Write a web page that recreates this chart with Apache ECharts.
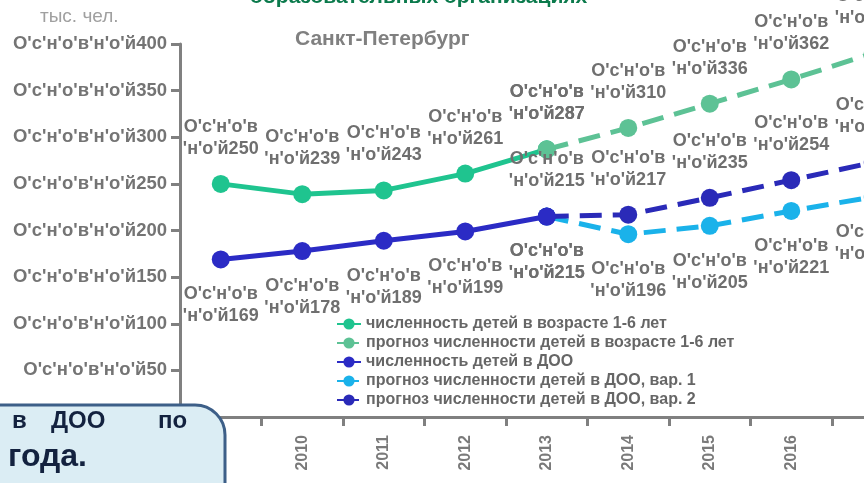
<!DOCTYPE html>
<html>
<head>
<meta charset="utf-8">
<script src="https://cdn.jsdelivr.net/npm/echarts@6/dist/echarts.min.js"></script>
<style>html,body{margin:0;padding:0;background:#fff;}#c{width:864px;height:483px;}</style>
</head>
<body>
<div id="c"></div>
<script>
const years = ['2009','2010','2011','2012','2013','2014','2015','2016','2017'];
const children16 = [250, 239, 243, 261, 287, null, null, null, null];
const children16Forecast = [null, null, null, null, 287, 310, 336, 362, 390];
const dooActual = [169, 178, 189, 199, 215, null, null, null, null];
const dooVar1 = [null, null, null, null, 215, 196, 205, 221, 236];
const dooVar2 = [null, null, null, null, 215, 217, 235, 254, 273];
const yTicks = [0, 50, 100, 150, 200, 250, 300, 350, 400];
const names = [
  'численность детей в возрасте 1-6 лет',
  'прогноз численности детей в возрасте 1-6 лет',
  'численность детей в ДОО',
  'прогноз численности детей в ДОО, вар. 1',
  'прогноз численности детей в ДОО, вар. 2'
];

const chart = echarts.init(document.getElementById('c'));
const FONT = 'Liberation Sans, Arial, sans-serif';
const labelFmt = p => "O'c'н'o'в\n'н'o'й" + p.value;
function lbl(pos) {
  return { show: true, position: pos, distance: 15, formatter: labelFmt,
    color: '#6f6f6f', fontFamily: FONT, fontWeight: 'bold', fontSize: 18, lineHeight: 22 };
}
function series(name, data, color, dashed, pos, z) {
  return {
    name, type: 'line', data, z,
    symbol: 'circle', symbolSize: 18,
    itemStyle: { color },
    lineStyle: { color, width: 5, type: dashed ? [22, 11] : 'solid' },
    label: lbl(pos),
    connectNulls: false
  };
}

chart.setOption({
  animation: false,
  grid: { left: 180, top: 44, height: 373, width: 733.5, outerBoundsMode: 'none', containLabel: false },
  xAxis: {
    type: 'category', data: years, boundaryGap: true,
    axisLine: { lineStyle: { color: '#808080', width: 3 } },
    axisTick: { show: true, length: 9, lineStyle: { color: '#808080', width: 3 } },
    axisLabel: { rotate: 90, margin: 18, color: '#7a7a7a', fontFamily: FONT, fontWeight: 'bold', fontSize: 16 }
  },
  yAxis: {
    type: 'value', min: yTicks[0], max: yTicks[yTicks.length - 1], interval: 50,
    splitLine: { show: false },
    axisLine: { show: true, lineStyle: { color: '#808080', width: 3 } },
    axisTick: { show: true, length: 9, lineStyle: { color: '#808080', width: 3 } },
    axisLabel: { margin: 13, color: '#747474', fontFamily: FONT, fontWeight: 'bold', fontSize: 18.5,
      formatter: v => "O'c'н'o'в'н'o'й" + v }
  },
  legend: {
    orient: 'vertical', left: 331, top: 311, itemGap: 3, itemWidth: 24, itemHeight: 14,
    data: names,
    textStyle: { color: '#666', fontFamily: FONT, fontWeight: 'bold', fontSize: 16 }
  },
  series: [
    series(names[0], children16, '#1fc48f', false, 'top', 2),
    series(names[1], children16Forecast, '#5dc295', true, 'top', 3),
    series(names[2], dooActual, '#2b2bc5', false, 'bottom', 5),
    series(names[3], dooVar1, '#1ab2ea', true, 'bottom', 2),
    series(names[4], dooVar2, '#2a2ab8', true, 'top', 3)
  ],
  graphic: [
    { type: 'text', left: 250, top: -13, z: 10,
      style: { text: 'образовательных организациях', fill: '#0b7a4c', font: 'bold 21px ' + FONT } },
    { type: 'text', left: 295, top: 29, z: 10,
      style: { text: 'Санкт-Петербург', fill: '#808080', font: 'bold 21px ' + FONT } },
    { type: 'text', left: 40, top: 7, z: 10,
      style: { text: 'тыс. чел.', fill: '#a0a0a0', font: '19px ' + FONT } },
    { type: 'rect', z: 20, shape: { x: -40, y: 405, width: 265, height: 130, r: 30 },
      style: { fill: '#dbedf4', stroke: '#3d5f88', lineWidth: 3 } },
    { type: 'text', z: 21, left: 12, top: 409,
      style: { text: 'в', fill: '#13223f', font: 'bold 24px ' + FONT } },
    { type: 'text', z: 21, left: 51, top: 409,
      style: { text: 'ДОО', fill: '#13223f', font: 'bold 24px ' + FONT } },
    { type: 'text', z: 21, left: 158, top: 409,
      style: { text: 'по', fill: '#13223f', font: 'bold 24px ' + FONT } },
    { type: 'text', z: 21, right: 777, top: 441,
      style: { text: '2017 года.', fill: '#13223f', font: 'bold 32px ' + FONT } }
  ]
});
</script>
</body>
</html>
